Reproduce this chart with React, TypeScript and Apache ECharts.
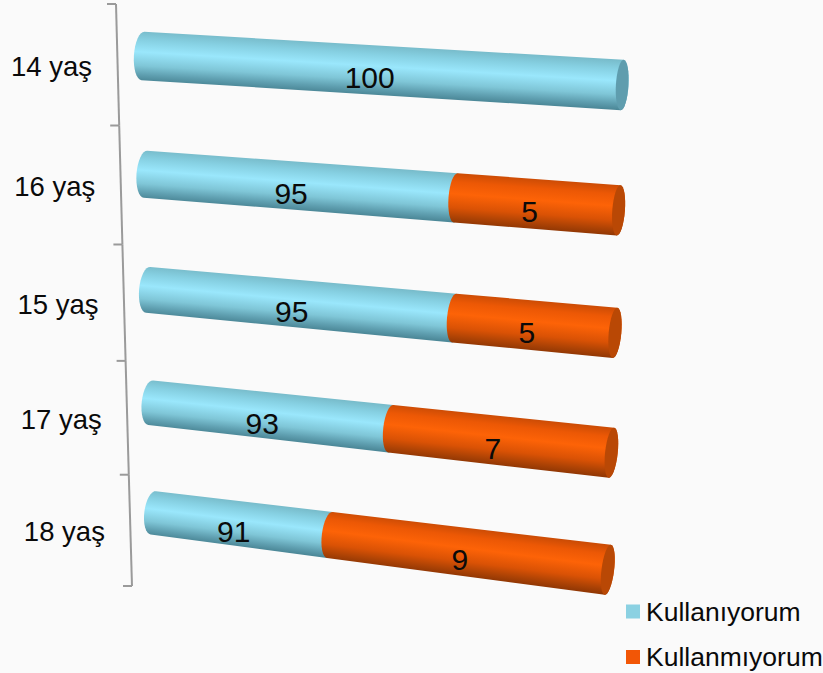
import React, { useEffect, useRef } from "react";
import * as echarts from "echarts";

const W = 823;
const H = 673;
const categories = ["14 yaş", "16 yaş", "15 yaş", "17 yaş", "18 yaş"];
const usedValues = [100, 95, 95, 93, 91];
const notUsedValues = [0, 5, 5, 7, 9];
const AXIS_MIN = 85;
const AXIS_MAX = 100;
const FONT = "'Liberation Sans', Arial, sans-serif";

// Oblique projection of the flat cartesian plot onto the tilted 3D look.
const project = (gx: number, gy: number) => {
  const t = gx / W;
  const v = gy / H;
  const g = t / (t + 1.05 * (1 - t));
  const bow = 34 * v * (1 - v);
  const xl = 141.6 + 13 * v;
  const xr = 624 - 18 * v;
  const yl = -4.16 + 571 * v + bow;
  const yr = 21.34 + 606 * v + bow;
  return { x: xl + (xr - xl) * g, y: yl + (yr - yl) * g, g, v };
};
const halfThickness = (g: number, v: number) => (24.5 - 3 * v) * (1 - g) + 25.2 * g;
const semiMinor = (g: number) => 9 - 2.7 * g;

const wall = (v: number) => ({ x: 116 + 16 * v, y: 4 + 582 * v + 32 * v * (1 - v) });

const cyanStops = [
  { offset: 0, color: "#78bccb" },
  { offset: 0.18, color: "#86d0e2" },
  { offset: 0.42, color: "#9ae7fc" },
  { offset: 0.7, color: "#7fc6d7" },
  { offset: 0.88, color: "#5f9fb0" },
  { offset: 1, color: "#4c8898" },
];
const orangeStops = [
  { offset: 0, color: "#cc4c05" },
  { offset: 0.18, color: "#ec5805" },
  { offset: 0.42, color: "#fd6307" },
  { offset: 0.7, color: "#da5205" },
  { offset: 0.88, color: "#ae4305" },
  { offset: 1, color: "#933804" },
];

const arc = (c: number[], d: number[], n: number[], e: number, h: number, sign: number) => {
  const pts: number[][] = [];
  for (let i = 0; i <= 16; i++) {
    const a = (Math.PI * i) / 16;
    const s = Math.cos(a);
    const o = Math.sin(a) * e * sign;
    pts.push([c[0] - n[0] * h * s + d[0] * o, c[1] - n[1] * h * s + d[1] * o]);
  }
  return pts;
};

const makeBarRender = (stops: any[], capColor: string) => (params: any, api: any) => {
  const start = api.value(0);
  const end = api.value(1);
  const idx = api.value(2);
  if (!(end > start)) return { type: "group", children: [] };
  const p0 = api.coord([start, idx]);
  const p1 = api.coord([end, idx]);
  const a = project(p0[0], p0[1]);
  const b = project(p1[0], p1[1]);
  const len = Math.hypot(b.x - a.x, b.y - a.y);
  const d = [(b.x - a.x) / len, (b.y - a.y) / len];
  const n = [-d[1], d[0]];
  const ha = halfThickness(a.g, a.v);
  const hb = halfThickness(b.g, b.v);
  const left = arc([a.x, a.y], d, n, semiMinor(a.g), ha, -1);
  const right = arc([b.x, b.y], d, n, semiMinor(b.g), hb, 1).reverse();
  const hm = (ha + hb) / 2;
  const mx = (a.x + b.x) / 2;
  const my = (a.y + b.y) / 2;
  const fill = new echarts.graphic.LinearGradient(
    mx - n[0] * hm, my - n[1] * hm, mx + n[0] * hm, my + n[1] * hm, stops, true
  );
  const children: any[] = [
    { type: "polygon", shape: { points: left.concat(right) }, style: { fill } },
  ];
  if (end >= AXIS_MAX) {
    const capL = arc([b.x, b.y], d, n, semiMinor(b.g), hb, -1);
    const capR = arc([b.x, b.y], d, n, semiMinor(b.g), hb, 1).reverse();
    children.push({ type: "polygon", shape: { points: capL.concat(capR) }, style: { fill: capColor } });
  }
  const midVal = (start + end) / 2;
  const pm = api.coord([midVal, idx]);
  const m = project(pm[0], pm[1]);
  children.push({
    type: "text",
    style: {
      x: m.x - 7,
      y: m.y + 7.5,
      text: String(api.value(3)),
      font: `30px ${FONT}`,
      fill: "#0a0a0a",
      align: "center",
      verticalAlign: "middle",
    },
  });
  return { type: "group", children };
};

const renderAxis = (params: any, api: any) => {
  const idx = api.value(0);
  const c = api.coord([AXIS_MIN, idx]);
  const band = api.size([0, 1])[1];
  const v0 = (c[1] - band / 2) / H;
  const v1 = (c[1] + band / 2) / H;
  const vc = c[1] / H;
  const a = wall(v0);
  const b = wall(v1);
  const m = wall(vc);
  const line = { stroke: "#9a9a9a", lineWidth: 2 };
  const children: any[] = [
    { type: "line", shape: { x1: a.x, y1: a.y, x2: b.x, y2: b.y }, style: line },
    { type: "line", shape: { x1: a.x - 9, y1: a.y, x2: a.x, y2: a.y }, style: line },
    {
      type: "text",
      style: {
        x: m.x - 25.5,
        y: m.y + 1,
        text: categories[idx],
        font: `27.5px ${FONT}`,
        fill: "#0a0a0a",
        align: "right",
        verticalAlign: "middle",
      },
    },
  ];
  if (idx === categories.length - 1) {
    children.push({ type: "line", shape: { x1: b.x - 9, y1: b.y, x2: b.x, y2: b.y }, style: line });
  }
  return { type: "group", children };
};

export default function App() {
  const ref = useRef<HTMLDivElement>(null);
  useEffect(() => {
    const chart = echarts.init(ref.current!, undefined, { renderer: "svg" });
    chart.setOption({
      animation: false,
      backgroundColor: "#fafafa",
      grid: { left: 0, right: 0, top: 0, bottom: 0 },
      xAxis: { type: "value", min: AXIS_MIN, max: AXIS_MAX, show: false },
      yAxis: { type: "category", data: categories, inverse: true, show: false },
      legend: {
        orient: "vertical",
        left: 626,
        top: 598,
        itemWidth: 14,
        itemHeight: 14,
        itemGap: 18.5,
        icon: "rect",
        data: ["Kullanıyorum", "Kullanmıyorum"],
        textStyle: { fontFamily: FONT, fontSize: 26.5, color: "#0a0a0a", padding: [0, 0, 0, 1] },
        padding: 0,
        selectedMode: false,
      },
      series: [
        {
          type: "custom",
          name: "axis",
          renderItem: renderAxis,
          clip: false,
          data: categories.map((_, i) => [i]),
          encode: { y: 0 },
          silent: true,
        },
        {
          type: "custom",
          name: "Kullanıyorum",
          itemStyle: { color: "#8bd1e2" },
          renderItem: makeBarRender(cyanStops, "#5f9dae"),
          clip: false,
          data: usedValues.map((val, i) => [AXIS_MIN, val, i, val]),
          encode: { x: [0, 1], y: 2 },
          silent: true,
        },
        {
          type: "custom",
          name: "Kullanmıyorum",
          itemStyle: { color: "#f25606" },
          renderItem: makeBarRender(orangeStops, "#b94805"),
          clip: false,
          data: notUsedValues.map((val, i) => [usedValues[i], usedValues[i] + val, i, val]),
          encode: { x: [0, 1], y: 2 },
          silent: true,
        },
      ],
    });
    return () => chart.dispose();
  }, []);
  return (
    <div style={{ position: "fixed", left: 0, top: 0, width: W, height: H }}>
      <div ref={ref} style={{ width: W, height: H }} />
    </div>
  );
}
